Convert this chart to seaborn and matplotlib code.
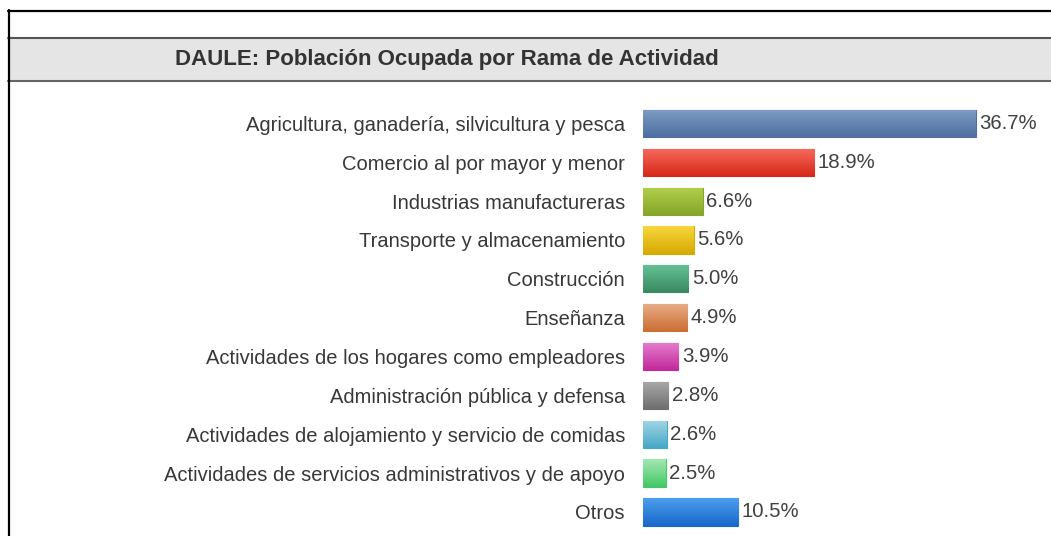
# Barras horizontales: poblacion ocupada de Daule por rama de actividad
import numpy as np
import matplotlib.pyplot as plt
import seaborn as sns
from matplotlib.patches import Rectangle
from matplotlib.lines import Line2D
from matplotlib.colors import LinearSegmentedColormap

titulo = "DAULE: Población Ocupada por Rama de Actividad"
ramas = ["Agricultura, ganadería, silvicultura y pesca",
         "Comercio al por mayor y menor",
         "Industrias manufactureras",
         "Transporte y almacenamiento",
         "Construcción",
         "Enseñanza",
         "Actividades de los hogares como empleadores",
         "Administración pública y defensa",
         "Actividades de alojamiento y servicio de comidas",
         "Actividades de servicios administrativos y de apoyo",
         "Otros"]
porcentajes = [36.7, 18.9, 6.6, 5.6, 5.0, 4.9, 3.9, 2.8, 2.6, 2.5, 10.5]

# colores (arriba -> abajo del degradado)
color_medio = ["#6286b4", "#e9473a", "#9fbe3c", "#efc41c", "#4ea97e", "#dc935f",
               "#d44fb6", "#8c8c8c", "#74c0d8", "#74d690", "#2e84de"]
color_arriba = ["#7d9dc6", "#f66b5d", "#b2cf4c", "#f8d63c", "#68c296", "#e9ae88",
                "#e47fcd", "#a9a9a9", "#a3d6e6", "#a3e8b2", "#4c9eec"]
color_abajo = ["#4e6f9f", "#d6291a", "#86a62a", "#d6aa02", "#398a62", "#cb6f35",
               "#c22a9c", "#6f6f6f", "#46a8c6", "#46c765", "#1868ca"]

sns.set_style("white")
plt.rcParams['font.family'] = ['Liberation Sans', 'DejaVu Sans']

W, H = 1051, 536
fig = plt.figure(figsize=(W / 100, H / 100), dpi=100)
ax = fig.add_axes([643 / W, 0, 408 / W, (536 - 104) / H])

sns.barplot(x=porcentajes, y=ramas, hue=ramas, palette=color_medio, legend=False,
            orient='h', width=0.7, ax=ax)

# degradado vertical dentro de cada barra
for i, cont in enumerate(ax.containers):
    for bar in cont:
        bar.set_edgecolor(color_abajo[i])
        bar.set_linewidth(0.8)
        x0, y0 = bar.get_x(), bar.get_y()
        w, h = bar.get_width(), bar.get_height()
        cmap = LinearSegmentedColormap.from_list("g%d" % i, [color_arriba[i], color_abajo[i]])
        img = ax.imshow(np.linspace(0, 1, 64).reshape(-1, 1), cmap=cmap, aspect='auto',
                        extent=[x0, x0 + w, y0 + h, y0], origin='upper', zorder=2)
        img.set_clip_path(bar)
    ax.bar_label(cont, fmt='%.1f%%', padding=2.5, fontsize=14.7, color='#404040')

ax.set_xlim(0, 45)
ax.set_ylim(10.62, -0.5)
ax.set_xticks([])
ax.set_xlabel('')
ax.set_ylabel('')
ax.tick_params(axis='y', length=0, pad=13, labelsize=14.5, labelcolor='#383838')
sns.despine(ax=ax, left=True, bottom=True)
ax.patch.set_alpha(0)

# marco y banda del titulo
fig.add_artist(Rectangle((8 / W, 1 - 81 / H), 1, (81 - 38) / H, transform=fig.transFigure,
                         facecolor='#e5e5e5', edgecolor='none'))
fig.add_artist(Line2D([8 / W, 1], [1 - 38 / H] * 2, color='#555555', lw=1.5))
fig.add_artist(Line2D([8 / W, 1], [1 - 81 / H] * 2, color='#666666', lw=1.5))
fig.add_artist(Line2D([8 / W, 1], [1 - 10.5 / H] * 2, color='black', lw=1.6))
fig.add_artist(Line2D([8.5 / W] * 2, [0, 1 - 10 / H], color='black', lw=1.6))
fig.text(175 / W, 1 - 60 / H, titulo, fontsize=16, fontweight='bold', color='#333333',
         va='center', ha='left')

fig.savefig("out.png", dpi=100)
